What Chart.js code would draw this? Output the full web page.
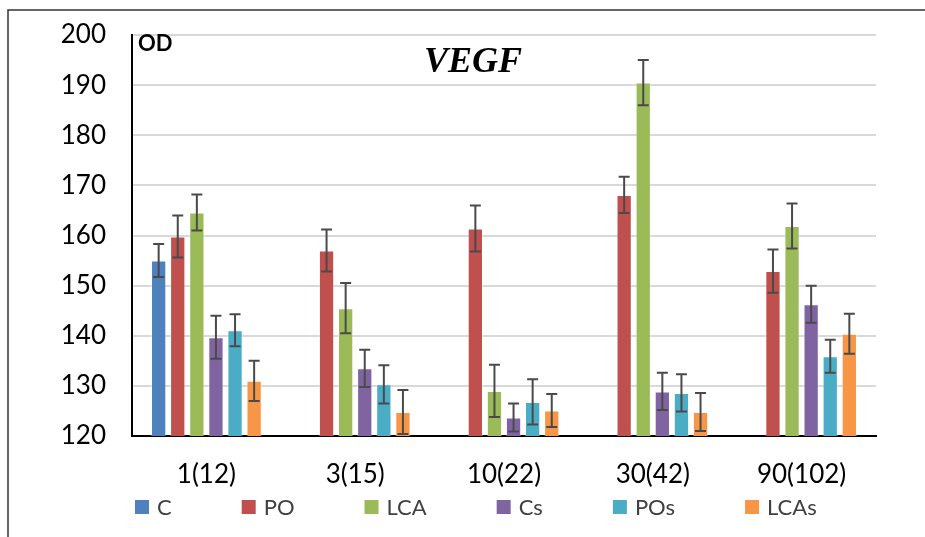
<!DOCTYPE html>
<html>
<head>
<meta charset="utf-8">
<script src="https://cdn.jsdelivr.net/npm/chart.js@4/dist/chart.umd.min.js"></script>
<style>
  html, body { margin: 0; padding: 0; background: #fff; }
  canvas { display: block; }
</style>
</head>
<body>
<canvas id="c" width="925" height="537"></canvas>
<script>
// ---- data ----
const categories = ['1(12)', '3(15)', '10(22)', '30(42)', '90(102)'];
const seriesNames = ['C', 'PO', 'LCA', 'Cs', 'POs', 'LCAs'];
const C_values    = [155.0, null, null, null, null];
const PO_values   = [159.8, 157.0, 161.4, 168.1, 152.9];
const LCA_values  = [164.6, 145.5, 129.0, 190.5, 161.9];
const Cs_values   = [139.7, 133.5, 123.7, 128.9, 146.3];
const POs_values  = [141.1, 130.3, 126.8, 128.6, 135.9];
const LCAs_values = [131.0, 124.8, 125.1, 124.8, 140.4];
const C_err    = [3.3, null, null, null, null];
const PO_err   = [4.2, 4.2, 4.6, 3.6, 4.3];
const LCA_err  = [3.6, 5.0, 5.2, 4.5, 4.5];
const Cs_err   = [4.3, 3.7, 2.8, 3.7, 3.7];
const POs_err  = [3.2, 3.8, 4.5, 3.7, 3.3];
const LCAs_err = [4.0, 4.4, 3.3, 3.8, 4.0];
const yTicks = [120, 130, 140, 150, 160, 170, 180, 190, 200];
const chartTitle = 'VEGF';
const axisTitle = 'OD';

const colors = ['#4F81BD', '#C0504D', '#9BBB59', '#8064A2', '#4BACC6', '#F79646'];
const valuesList = [C_values, PO_values, LCA_values, Cs_values, POs_values, LCAs_values];
const errList = [C_err, PO_err, LCA_err, Cs_err, POs_err, LCAs_err];

const datasets = seriesNames.map((name, i) => ({
  label: name,
  data: valuesList[i],
  errors: errList[i],
  backgroundColor: colors[i],
  borderColor: 'rgba(255,255,255,0.35)',
  borderWidth: 1,
  borderSkipped: false,
  categoryPercentage: 0.77,
  barPercentage: 0.8
}));

const FONT = 'Lato, "Open Sans", "Liberation Sans", sans-serif';

const framePlugin = {
  id: 'frame',
  beforeDraw(chart) {
    const ctx = chart.ctx;
    ctx.save();
    ctx.fillStyle = '#fff';
    ctx.fillRect(0, 0, chart.width, chart.height);
    ctx.strokeStyle = '#333';
    ctx.lineWidth = 1.5;
    ctx.beginPath();
    ctx.moveTo(8, chart.height);
    ctx.lineTo(8, 10);
    ctx.lineTo(chart.width, 10);
    ctx.stroke();
    ctx.restore();
  }
};

const errorBarPlugin = {
  id: 'errorBars',
  afterDatasetsDraw(chart) {
    const ctx = chart.ctx;
    const y = chart.scales.y;
    ctx.save();
    ctx.strokeStyle = '#4a4a4a';
    ctx.lineWidth = 2;
    chart.data.datasets.forEach((ds, di) => {
      const meta = chart.getDatasetMeta(di);
      meta.data.forEach((bar, i) => {
        const v = ds.data[i], e = ds.errors[i];
        if (v == null || e == null) return;
        const top = y.getPixelForValue(v + e);
        const bot = y.getPixelForValue(v - e);
        const x = bar.x, cap = 5.5;
        ctx.beginPath();
        ctx.moveTo(x, top); ctx.lineTo(x, bot);
        ctx.moveTo(x - cap, top); ctx.lineTo(x + cap, top);
        ctx.moveTo(x - cap, bot); ctx.lineTo(x + cap, bot);
        ctx.stroke();
      });
    });
    ctx.restore();
  }
};

const textPlugin = {
  id: 'texts',
  afterDraw(chart) {
    const ctx = chart.ctx;
    const a = chart.chartArea;
    ctx.save();
    // title
    ctx.fillStyle = '#000';
    ctx.font = 'italic bold 36px "Liberation Serif", "DejaVu Serif", serif';
    ctx.textAlign = 'center';
    ctx.textBaseline = 'alphabetic';
    ctx.fillText(chartTitle, 473, 72);
    // axis title
    ctx.font = 'bold 22px ' + FONT;
    ctx.textAlign = 'left';
    ctx.fillText(axisTitle, a.left + 6, a.top + 16);
    // legend
    ctx.font = '22px ' + FONT;
    ctx.textBaseline = 'middle';
    let x = a.left + 3;
    const yc = 507;
    chart.data.datasets.forEach(ds => {
      ctx.fillStyle = ds.backgroundColor;
      ctx.fillRect(x, yc - 7, 14, 14);
      ctx.fillStyle = '#404040';
      ctx.fillText(ds.label, x + 22, yc + 1);
      x += ctx.measureText(ds.label).width + 92;
    });
    ctx.restore();
  }
};

new Chart(document.getElementById('c'), {
  type: 'bar',
  data: { labels: categories, datasets },
  options: {
    responsive: false,
    animation: false,
    layout: { padding: { left: 20, right: 49, top: 35, bottom: 0 } },
    plugins: {
      legend: { display: false },
      tooltip: { enabled: false },
      title: { display: false }
    },
    scales: {
      x: {
        grid: { display: false, drawTicks: false },
        border: { display: true, color: '#000', width: 2 },
        ticks: { color: '#000', font: { family: FONT, size: 26 }, padding: 23, maxRotation: 0 },
        afterFit(s) { s.height = 101; s.paddingLeft = 0; s.paddingRight = 0; }
      },
      y: {
        min: 120, max: 200,
        afterBuildTicks(s) { s.ticks = yTicks.map(v => ({ value: v })); },
        grid: { color: '#d9d9d9', lineWidth: 2, drawTicks: false },
        border: { display: true, color: '#000', width: 2 },
        ticks: { color: '#000', font: { family: FONT, size: 26 }, padding: 26 },
        afterFit(s) { s.width = 112; s.paddingTop = 0; s.paddingBottom = 0; }
      }
    }
  },
  plugins: [framePlugin, errorBarPlugin, textPlugin]
});
</script>
</body>
</html>
